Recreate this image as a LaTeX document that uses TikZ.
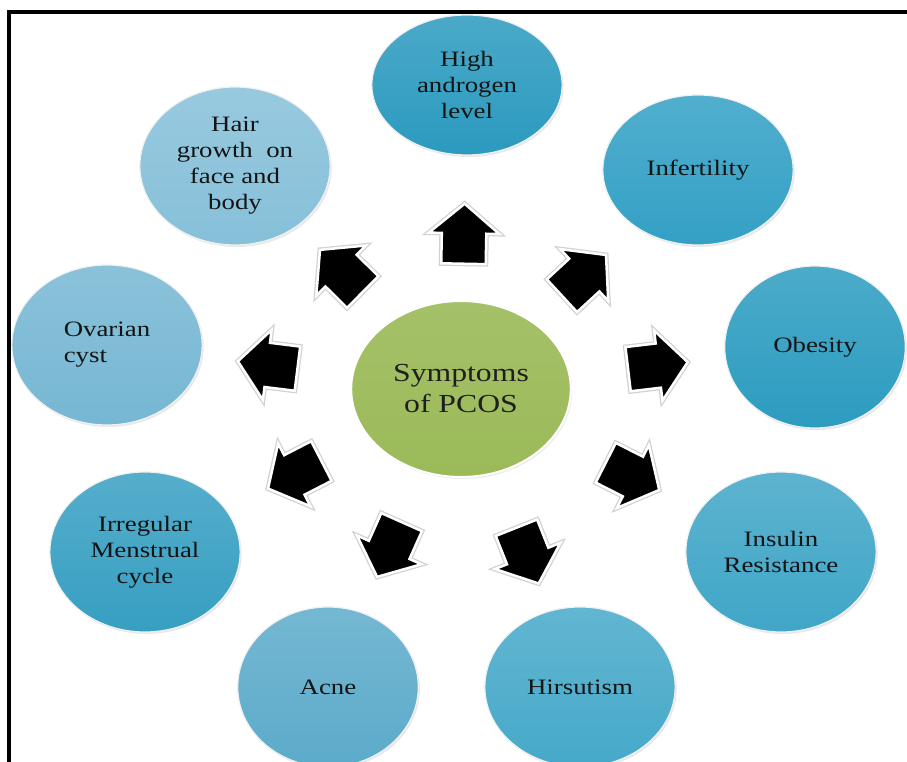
\documentclass[tikz,border=0pt]{standalone}
\usepackage{fontspec}
\setmainfont{Liberation Serif}
\usetikzlibrary{shapes.geometric}
\usetikzlibrary{shapes.arrows}
\usetikzlibrary{shadows}

\definecolor{androcol}{HTML}{2B9ABF}
\definecolor{infertcol}{HTML}{33A0C5}
\definecolor{obescol}{HTML}{2C9CC0}
\definecolor{insulcol}{HTML}{40A6C7}
\definecolor{hirscol}{HTML}{46A9C9}
\definecolor{acnecol}{HTML}{5CABCA}
\definecolor{irregcol}{HTML}{379FC2}
\definecolor{ovarcol}{HTML}{76B7D3}
\definecolor{haircol}{HTML}{86C0D9}
\definecolor{pcoscol}{HTML}{9BBA58}

\begin{document}
\begin{tikzpicture}
		[x=1pt, y=1pt,
		bubble/.style={ellipse, xscale=1.22, minimum width=156pt, minimum height=160pt, inner sep=0pt,
			align=center, top color=#1!85!white, bottom color=#1, draw=white!88!gray, line width=1.2pt,
			text=black!92, font=\fontsize{22}{26}\selectfont,
			drop shadow={opacity=0.18, shadow xshift=1.5pt, shadow yshift=-2pt}},
		hub/.style={ellipse, xscale=1.22, minimum width=180pt, minimum height=176pt, inner sep=0pt,
			align=center, top color=pcoscol!90!white, bottom color=pcoscol, draw=white, line width=2pt,
			text=black!88, font=\fontsize{26}{31}\selectfont,
			drop shadow={opacity=0.15, shadow xshift=1.5pt, shadow yshift=-2pt}},
		fatarrow/.style={single arrow, fill=black, draw=white, line width=2.5pt,
			inner xsep=0pt, inner ysep=21pt, minimum height=60pt, single arrow head extend=13pt,
			single arrow tip angle=100, preaction={draw=black!18, line width=5pt},
			sloped, allow upside down}]
		\useasboundingbox (0,0) rectangle (907,762);

		\node[hub] (pcos) at (461,373) {Symptoms\\of PCOS};

		\node[bubble=androcol, minimum height=140pt] (andro) at (467,677) {High\\androgen\\level};
		\node[bubble=infertcol, minimum height=150pt] (infert) at (698,592) {Infertility};
		\node[bubble=obescol, minimum width=148pt, minimum height=162pt] (obes) at (815,415) {Obesity};
		\node[bubble=insulcol] (insul) at (781,210) {Insulin\\Resistance};
		\node[bubble=hirscol] (hirs) at (580,75) {Hirsutism};
		\node[bubble=acnecol, minimum width=148pt] (acne) at (328,75) {Acne};
		\node[bubble=irregcol] (irreg) at (145,210) {Irregular\\Menstrual\\cycle};
		\node[bubble=ovarcol, align=left] (ovar) at (107,417) {Ovarian\\cyst};
		\node[bubble=haircol, minimum height=158pt] (hair) at (235,596) {Hair\\growth~ on\\face and\\body};

		\path (pcos.center) -- node[fatarrow, pos=0.48] (ar1) {} (andro.center);
		\path (pcos.center) -- node[fatarrow, pos=0.49] (ar2) {} (infert.center);
		\path (pcos.center) -- node[fatarrow, pos=0.53] (ar3) {} (obes.center);
		\path (pcos.center) -- node[fatarrow, pos=0.51] (ar4) {} (insul.center);
		\path (pcos.center) -- node[fatarrow, pos=0.53] (ar5) {} (hirs.center);
		\path (pcos.center) -- node[fatarrow, pos=0.51] (ar6) {} (acne.center);
		\path (pcos.center) -- node[fatarrow, pos=0.5] (ar7) {} (irreg.center);
		\path (pcos.center) -- node[fatarrow, pos=0.52] (ar8) {} (ovar.center);
		\path (pcos.center) -- node[fatarrow, pos=0.5] (ar9) {} (hair.center);

		\draw[line width=3.5pt] (9,0) |- (907,750);
	\end{tikzpicture}
\end{document}
